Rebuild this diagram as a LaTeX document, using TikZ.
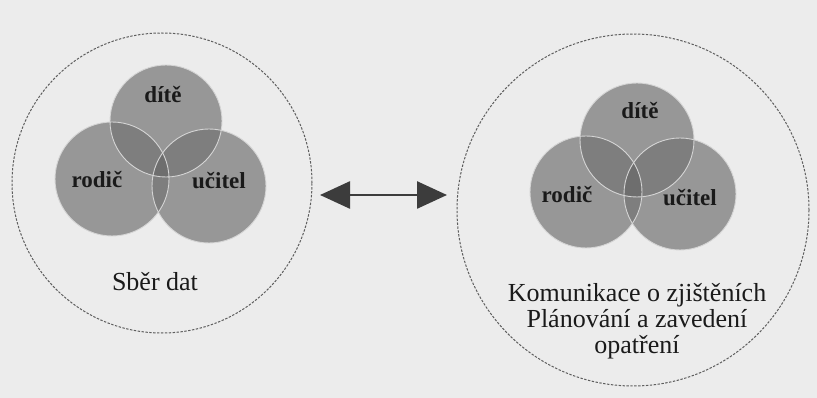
\documentclass[tikz,border=0pt]{standalone}
\usepackage{fontspec}
\setmainfont{Liberation Serif}
\usetikzlibrary{arrows.meta}
\definecolor{bg}{HTML}{ECECEC}
\definecolor{one}{HTML}{979797}
\definecolor{two}{HTML}{7E7E7E}
\definecolor{three}{HTML}{6E6E6E}
\definecolor{ink}{HTML}{1A1A1A}
\definecolor{ring}{HTML}{5E5E5E}
\tikzset{
  outer/.style={circle, draw=ring, line width=1pt, dash pattern=on 2.4pt off 1.5pt, inner sep=0pt},
  venn/.style={circle, fill=one, inner sep=0pt},
  rim/.style={draw=white!60!one, line width=0.9pt},
  lab/.style={text=ink, font=\fontsize{23}{26}\selectfont\bfseries, inner sep=0pt},
  captext/.style={text=ink, font=\fontsize{26}{26}\selectfont, inner sep=0pt, align=center},
  dbl/.style={draw=ink!85, line width=2.6pt, {Triangle[length=30pt,width=27pt]}-{Triangle[length=30pt,width=27pt]}}
}
\newcommand{\lapover}[4]{% clip circle A (center,radius) fill circle B
  \begin{scope}\clip (#1) circle (#2);\fill[two] (#3) circle (#4);\end{scope}}
\begin{document}
\begin{tikzpicture}[x=1pt,y=-1pt]
\fill[bg] (0,0) rectangle (817,398);
\useasboundingbox (0,0) rectangle (817,398);
% outer rings
\node[outer, minimum size=300pt] (lo) at (162,183) {};
\node[outer, minimum size=352pt] (ro) at (633,210) {};
% left venn
\node[venn, minimum size=112pt] (ld) at (166,121) {};
\node[venn, minimum size=114pt] (lr) at (112,179) {};
\node[venn, minimum size=114pt] (lu) at (209,186) {};
\lapover{ld.center}{56pt}{lr.center}{57pt}
\lapover{ld.center}{56pt}{lu.center}{57pt}
\lapover{lr.center}{57pt}{lu.center}{57pt}
\begin{scope}\clip (ld.center) circle (56pt);\clip (lr.center) circle (57pt);\fill[three] (lu.center) circle (57pt);\end{scope}
\draw[rim] (ld.center) circle (56pt);
\draw[rim] (lr.center) circle (57pt);
\draw[rim] (lu.center) circle (57pt);
% right venn
\node[venn, minimum size=114pt] (rd) at (637,140) {};
\node[venn, minimum size=112pt] (rr) at (586,192) {};
\node[venn, minimum size=112pt] (ru) at (680,194) {};
\lapover{rd.center}{57pt}{rr.center}{56pt}
\lapover{rd.center}{57pt}{ru.center}{56pt}
\lapover{rr.center}{56pt}{ru.center}{56pt}
\begin{scope}\clip (rd.center) circle (57pt);\clip (rr.center) circle (56pt);\fill[three] (ru.center) circle (56pt);\end{scope}
\draw[rim] (rd.center) circle (57pt);
\draw[rim] (rr.center) circle (56pt);
\draw[rim] (ru.center) circle (56pt);
% labels
\node[lab] (tld) at (163,95) {dítě};
\node[lab] (tlr) at (97,180) {rodič};
\node[lab] (tlu) at (219,181) {učitel};
\node[captext] (tls) at (155,282) {Sběr dat};
\node[lab] (trd) at (640,111) {dítě};
\node[lab] (trr) at (567,195) {rodič};
\node[lab] (tru) at (690,198) {učitel};
\node[captext] (trs) at (637,321) {Komunikace o zjištěních\\Plánování a zavedení\\opatření};
% arrow
\coordinate (al) at (320,195);
\coordinate (ar) at (447,195);
\draw[dbl] (al) -- (ar);
\end{tikzpicture}
\end{document}
